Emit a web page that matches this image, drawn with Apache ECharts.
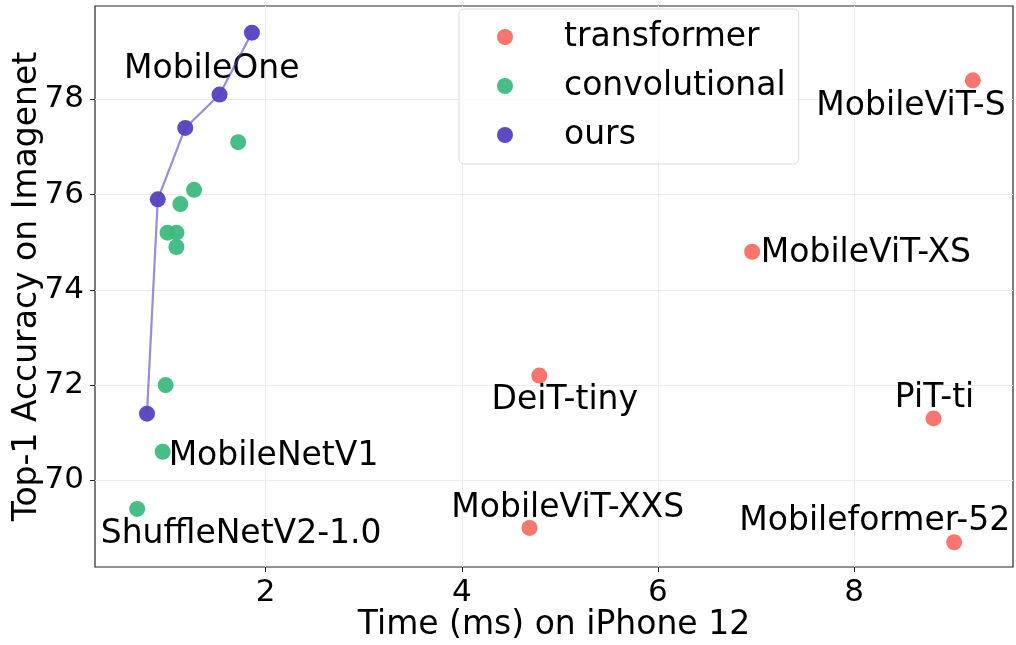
<!DOCTYPE html>
<html>
<head>
<meta charset="utf-8">
<script src="https://cdn.jsdelivr.net/npm/echarts@6/dist/echarts.min.js"></script>
<style>
  html, body { margin: 0; padding: 0; background: #fff; }
  #main { width: 1016px; height: 645px; }
</style>
</head>
<body>
<div id="main"></div>
<script>
// transformer models
var transformerNames = ['MobileViT-S', 'MobileViT-XS', 'DeiT-tiny', 'PiT-ti', 'MobileViT-XXS', 'Mobileformer-52'];
var transformerTime = [9.21, 6.96, 4.79, 8.81, 4.69, 9.02];
var transformerAcc = [78.4, 74.8, 72.2, 71.3, 69.0, 68.7];

// convolutional models
var convTime = [1.72, 1.27, 1.13, 1.00, 1.09, 1.09, 0.98, 0.95, 0.69];
var convAcc = [77.1, 76.1, 75.8, 75.2, 75.2, 74.9, 72.0, 70.6, 69.4];

// ours (MobileOne)
var oursTime = [0.79, 0.90, 1.18, 1.53, 1.86];
var oursAcc = [71.4, 75.9, 77.4, 78.1, 79.4];

// annotation text and where it sits (data coords)
var labelNames = ['MobileOne', 'MobileViT-S', 'MobileViT-XS', 'DeiT-tiny', 'PiT-ti', 'MobileViT-XXS', 'Mobileformer-52', 'MobileNetV1', 'ShuffleNetV2-1.0'];
var labelX = [1.45, 8.58, 8.12, 5.05, 8.82, 5.08, 8.21, 2.08, 1.75];
var labelY = [78.62, 77.86, 74.77, 71.68, 71.71, 69.40, 69.14, 70.51, 68.87];

var xTicks = [2, 4, 6, 8];
var yTicks = [70, 72, 74, 76, 78];

function pairs(xs, ys) {
	var out = [];
	for (var i = 0; i < xs.length; i++) out.push([xs[i], ys[i]]);
	return out;
}

var labelData = [];
for (var i = 0; i < labelNames.length; i++) {
	labelData.push({ name: labelNames[i], value: [labelX[i], labelY[i]] });
}

var FONT = 'DejaVu Sans';

var option = {
	animation: false,
	textStyle: { fontFamily: FONT },
	grid: {
		left: 95, right: 3, top: 6, bottom: 78,
		outerBoundsMode: 'none',
		containLabel: false,
		show: true, borderColor: '#262626', borderWidth: 1.2
	},
	legend: {
		data: ['transformer', 'convolutional', 'ours'],
		orient: 'vertical',
		left: 459, top: 9,
		icon: 'circle',
		itemWidth: 16, itemHeight: 16,
		itemGap: 13,
		padding: [10, 13, 11, 38],
		backgroundColor: 'rgba(255,255,255,0.8)',
		borderColor: '#d9d9d9', borderWidth: 1, borderRadius: 5,
		textStyle: { fontFamily: FONT, fontSize: 33, color: '#000', lineHeight: 36, padding: [0, 0, 0, 46] }
	},
	xAxis: {
		type: 'value',
		min: 0.26, max: 9.62,
		name: 'Time (ms) on iPhone 12',
		nameLocation: 'middle', nameGap: 42,
		nameMoveOverlap: false,
		nameTextStyle: { fontFamily: FONT, fontSize: 33, color: '#000' },
		axisLine: { show: false },
		axisTick: { show: true, length: 5, customValues: xTicks, lineStyle: { color: '#262626' } },
		axisLabel: { customValues: xTicks, fontFamily: FONT, fontSize: 31, color: '#000', margin: 10 },
		splitLine: { show: true, lineStyle: { color: '#ebebeb', width: 1 } }
	},
	yAxis: {
		type: 'value',
		min: 68.18, max: 79.96,
		name: 'Top-1 Accuracy on Imagenet',
		nameLocation: 'middle', nameGap: 51,
		nameMoveOverlap: false,
		nameTextStyle: { fontFamily: FONT, fontSize: 33, color: '#000' },
		axisLine: { show: false },
		axisTick: { show: true, length: 5, customValues: yTicks, lineStyle: { color: '#262626' } },
		axisLabel: { customValues: yTicks, fontFamily: FONT, fontSize: 31, color: '#000', margin: 11 },
		splitLine: { show: true, lineStyle: { color: '#ebebeb', width: 1 } }
	},
	series: [
		{
			name: 'transformer',
			type: 'scatter',
			symbolSize: 16,
			itemStyle: { color: '#f8766b', opacity: 1 },
			data: pairs(transformerTime, transformerAcc)
		},
		{
			name: 'convolutional',
			type: 'scatter',
			symbolSize: 16,
			itemStyle: { color: '#3dba7e', opacity: 0.95 },
			data: pairs(convTime, convAcc)
		},
		{
			name: 'ours',
			type: 'scatter',
			symbolSize: 16,
			itemStyle: { color: '#5540c2', opacity: 0.95 },
			data: pairs(oursTime, oursAcc)
		},
		{
			name: 'ours-line',
			type: 'line',
			showSymbol: false,
			symbol: 'none',
			lineStyle: { color: '#5540c2', width: 2.2, opacity: 0.6 },
			z: 3,
			silent: true,
			data: pairs(oursTime, oursAcc)
		},
		{
			name: 'annotations',
			type: 'scatter',
			symbolSize: 0,
			silent: true,
			itemStyle: { opacity: 1 },
			label: {
				show: true, position: 'inside', formatter: '{b}',
				fontFamily: FONT, fontSize: 33, color: '#000', opacity: 1
			},
			data: labelData
		}
	]
};

var myChart = echarts.init(document.getElementById('main'));
myChart.setOption(option);
</script>
</body>
</html>
